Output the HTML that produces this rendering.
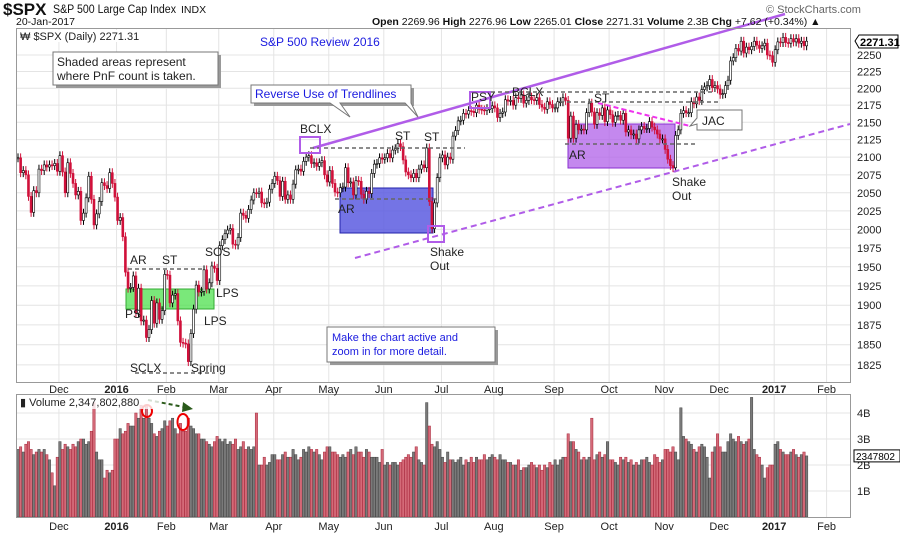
<!DOCTYPE html>
<html><head><meta charset="utf-8">
<style>
body{margin:0;background:#fff;width:900px;height:534px;overflow:hidden;font-family:"Liberation Sans",sans-serif}
svg{display:block}
text{font-family:"Liberation Sans",sans-serif}
</style></head>
<body>
<svg id="chart" width="900" height="534" viewBox="0 0 900 534">
<g id="grid"></g>
<g id="overlayBack">
  <rect x="126" y="289" width="88" height="20" fill="#4ee04e" fill-opacity="0.75" stroke="#3a3"/>
  <rect x="340" y="188" width="93" height="45" fill="#5c5ce0" fill-opacity="0.85" stroke="#2222aa"/>
  <rect x="568" y="124" width="107" height="44" fill="#b060e8" fill-opacity="0.75" stroke="#8a2fd0"/>
</g>
<g id="candles"></g>
<g id="vol"></g>
<g id="annot">
  <line x1="313" y1="148" x2="785" y2="14" stroke="#b05ce8" stroke-width="2.5"/>
  <line x1="355" y1="258" x2="850" y2="124" stroke="#b05ce8" stroke-width="2" stroke-dasharray="6,4"/>
  <line x1="598" y1="103" x2="690" y2="126" stroke="#ee33ee" stroke-width="2" stroke-dasharray="5,3"/>
  <g stroke="#666" stroke-width="1.5" stroke-dasharray="4,3">
    <line x1="128" y1="269" x2="205" y2="269"/>
    <line x1="135" y1="373" x2="215" y2="373"/>
    <line x1="310" y1="148" x2="465" y2="148"/>
    <line x1="335" y1="199" x2="440" y2="199"/>
    <line x1="470" y1="92" x2="715" y2="92"/>
    <line x1="560" y1="102" x2="720" y2="102"/>
    <line x1="565" y1="144" x2="697" y2="144"/>
  </g>
  <rect x="300" y="137" width="20" height="16" fill="none" stroke="#b05ce8" stroke-width="2"/>
  <rect x="470" y="92" width="20" height="16" fill="none" stroke="#b05ce8" stroke-width="2"/>
  <rect x="428" y="226" width="16" height="16" fill="none" stroke="#b05ce8" stroke-width="2"/>
  <g font-size="12" fill="#222">
    <text x="130" y="264">AR</text><text x="162" y="264">ST</text><text x="205" y="256">SOS</text>
    <text x="125" y="318">PS</text><text x="216" y="297">LPS</text><text x="204" y="325">LPS</text>
    <text x="130" y="372">SCLX</text><text x="191" y="372">Spring</text>
    <text x="300" y="133">BCLX</text><text x="395" y="140">ST</text><text x="424" y="141">ST</text>
    <text x="338" y="213">AR</text><text x="430" y="256">Shake</text><text x="430" y="270">Out</text>
    <text x="471" y="101">PSY</text><text x="512" y="96">BCLX</text><text x="594" y="102">ST</text>
    <text x="569" y="159">AR</text><text x="672" y="186">Shake</text><text x="672" y="200">Out</text>
  </g>
  <g>
    <polygon points="697,110 742,110 742,130 697,130 697,124 690,126 697,118" fill="#fff" stroke="#777"/>
    <text x="702" y="125" font-size="12" fill="#222">JAC</text>
  </g>
  <g>
    <rect x="56" y="55" width="165" height="33" fill="#999"/>
    <rect x="53" y="52" width="165" height="33" fill="#fff" stroke="#777"/>
    <text x="57" y="66" font-size="12" fill="#222">Shaded areas represent</text>
    <text x="57" y="80" font-size="12" fill="#222">where PnF count is taken.</text>
  </g>
  <g>
    <rect x="254" y="88" width="160" height="18" fill="#999"/>
    <polygon points="251,85 411,85 411,103 418,117 405,103 340,103 350,117 330,103 251,103" fill="#fff" stroke="#777"/>
    <text x="255" y="98" font-size="12" fill="#1a1adf">Reverse Use of Trendlines</text>
  </g>
  <g>
    <rect x="330" y="330" width="168" height="35" fill="#999"/>
    <rect x="327" y="327" width="168" height="35" fill="#fff" stroke="#777"/>
    <text x="332" y="341" font-size="11" fill="#1a1adf">Make the chart active and</text>
    <text x="332" y="355" font-size="11" fill="#1a1adf">zoom in for more detail.</text>
  </g>
  <text x="260" y="46" font-size="12" fill="#1a1adf">S&amp;P 500 Review 2016</text>
  <ellipse cx="147" cy="411" rx="5" ry="6" fill="none" stroke="#e00" stroke-width="2"/>
  <ellipse cx="183" cy="422" rx="5.5" ry="8" fill="none" stroke="#e00" stroke-width="2"/>
  <line x1="148" y1="400" x2="184" y2="407" stroke="#2a5a1a" stroke-width="2" stroke-dasharray="4,3"/>
  <polygon points="183,402 193,409 182,412" fill="#2a5a1a"/>
</g>
<g id="frame">
  <rect x="16.5" y="28.5" width="834" height="354" fill="none" stroke="#999"/>
  <rect x="16.5" y="394.5" width="834" height="123" fill="none" stroke="#999"/>
  <rect x="19" y="30" width="130" height="12" fill="#fff"/>
  <text x="20" y="40" font-size="11" fill="#222">₩ $SPX (Daily) 2271.31</text>
  <rect x="19" y="397" width="140" height="12" fill="#fff" fill-opacity="0.8"/>
  <text x="20" y="406" font-size="11" fill="#222">▮ Volume 2,347,802,880</text>
</g>
<g>
  <text x="3" y="15" font-size="17" font-weight="bold" fill="#111">$SPX</text>
  <text x="53" y="13" font-size="11.5" fill="#111" textLength="123" lengthAdjust="spacingAndGlyphs">S&amp;P 500 Large Cap Index</text>
  <text x="181" y="13" font-size="10.5" fill="#111">INDX</text>
  <text x="16" y="25" font-size="10.5" fill="#111">20-Jan-2017</text>
  <text x="372" y="25" font-size="10.5" fill="#111"><tspan font-weight="bold">Open</tspan> 2269.96  <tspan font-weight="bold">High</tspan> 2276.96  <tspan font-weight="bold">Low</tspan> 2265.01  <tspan font-weight="bold">Close</tspan> 2271.31  <tspan font-weight="bold">Volume</tspan> 2.3B  <tspan font-weight="bold">Chg</tspan> +7.62 (+0.34%) ▲</text>
  <text x="766" y="13" font-size="11" fill="#666">© StockCharts.com</text>
</g>
<g id="axes"></g>
<g>
  <polygon points="855,41 859,35 898,35 898,48 859,48" fill="#fff" stroke="#000"/>
  <text x="860" y="46" font-size="11" font-weight="bold" fill="#000">2271.31</text>
</g>
</svg>
<script>
const closes=[
2099,2078,2081,2075,2045,2023,2053,2050,2083,2081,2089,2086,2089,2088,2091,2080,
2102,2079,2050,2092,2077,2063,2047,2052,2012,2022,2043,2073,2041,2006,2021,2038,2064,2060,2056,2078,2063,2044,
2012,2016,1990,1943,1922,1923,1938,1890,1922,1880,1881,1859,1869,1906,1877,1903,1882,1893,1940,
1939,1903,1913,1915,1880,1853,1852,1851,1829,1864,1895,1926,1917,1918,1946,1921,1929,1951,1948,1932,
1978,1986,1994,1999,2001,1980,1979,1989,2022,2019,2015,2027,2040,2050,2049,2051,2036,2035,2037,2055,2063,
2073,2067,2045,2066,2041,2047,2041,2062,2082,2083,2080,2094,2100,2102,2091,2092,2087,2092,2095,2075,2065,
2081,2063,2051,2050,2057,2058,2085,2064,2065,2047,2067,2066,2048,2041,2052,2049,2077,2090,2091,2099,2097,
2099,2105,2099,2110,2112,2119,2115,2096,2079,2075,2071,2077,2071,2083,2089,2085,2113,2038,2001,2036,2071,2099,
2103,2089,2100,2097,2130,2138,2152,2153,2163,2162,2167,2166,2164,2175,2169,2168,2167,2170,2170,2174,
2171,2157,2163,2165,2183,2181,2182,2175,2186,2185,2190,2178,2182,2187,2183,2182,2186,2176,2172,2169,2180,2176,2171,
2171,2180,2180,2186,2182,2127,2159,2127,2147,2139,2140,2139,2164,2178,2165,2147,2164,2160,2171,2151,2168,
2161,2150,2159,2160,2153,2163,2136,2139,2132,2133,2126,2139,2144,2141,2141,2151,2143,2139,2133,2126,2126,
2111,2097,2088,2085,2131,2139,2163,2167,2164,2164,2180,2177,2187,2182,2198,2202,2204,2213,2201,2204,2199,
2191,2192,2204,2212,2241,2246,2260,2256,2271,2253,2262,2258,2263,2271,2265,2260,2264,2268,2250,2249,2239,
2258,2270,2269,2277,2269,2268,2275,2270,2275,2268,2271,2264,2271];
const volumes=[
2.6,2.7,2.5,2.8,2.9,2.6,2.4,2.5,2.6,2.5,2.6,2.4,2.2,1.7,1.2,2.3,
2.9,2.6,2.8,2.7,2.6,2.8,2.7,2.9,3.0,3.0,2.8,2.9,3.3,4.4,2.5,2.2,2.2,1.5,1.8,1.7,1.8,3.0,
3.0,3.4,3.2,3.3,3.6,3.5,3.5,4.0,3.8,4.3,3.8,4.3,3.8,3.6,3.2,3.1,3.3,3.4,3.7,
3.5,3.7,3.8,3.4,3.2,3.6,3.3,3.3,3.8,3.5,3.4,3.2,3.2,3.0,3.0,2.9,2.8,2.7,2.9,3.1,
3.0,2.9,3.0,2.8,2.9,2.8,3.0,2.6,2.7,2.9,2.6,2.7,2.6,2.7,4.0,2.0,2.0,2.3,2.0,2.1,2.4,
2.4,2.2,2.2,2.4,2.5,2.3,2.3,2.6,2.4,2.2,2.3,2.6,2.5,2.7,2.6,2.5,2.6,2.4,2.2,2.5,2.7,
2.7,2.5,2.5,2.4,2.3,2.4,2.3,2.5,2.6,2.4,2.7,2.5,2.5,2.3,2.6,2.5,2.3,2.3,2.3,2.1,2.6,
2.0,2.1,2.0,2.1,2.1,2.0,2.1,2.2,2.3,2.4,2.3,2.5,2.7,2.2,2.1,2.0,4.4,3.5,2.8,2.7,2.9,2.6,
2.3,2.1,2.5,2.2,2.2,2.1,2.2,2.3,2.0,2.2,2.1,2.3,2.1,2.3,2.2,2.2,2.4,2.2,2.3,2.4,
2.3,2.2,2.4,2.2,2.2,2.1,2.1,2.0,2.0,2.2,1.8,1.9,1.9,2.0,2.1,2.0,1.9,2.0,1.8,2.0,1.9,2.1,2.0,
2.2,2.0,2.2,2.3,2.3,3.2,2.9,2.9,2.6,2.5,2.2,2.3,2.2,2.3,3.8,2.2,2.4,2.5,2.3,2.4,2.9,
2.2,2.2,2.1,2.0,2.3,2.2,2.3,2.1,2.2,2.0,2.1,2.0,2.2,2.2,2.3,2.1,2.0,2.4,2.3,2.1,2.2,
2.6,2.6,2.5,2.7,2.5,2.2,4.2,3.1,3.0,2.9,2.8,2.6,2.5,2.7,2.8,2.7,2.3,1.5,2.5,2.7,3.2,
2.7,2.5,2.5,2.9,3.2,3.0,2.9,3.1,2.9,2.8,2.9,3.0,4.6,2.6,2.4,2.3,2.0,1.5,1.9,2.0,2.0,
2.8,2.9,2.6,2.5,2.4,2.4,2.5,2.6,2.4,2.3,2.4,2.5,2.35];
const monthLabels=["Dec","2016","Feb","Mar","Apr","May","Jun","Jul","Aug","Sep","Oct","Nov","Dec","2017","Feb"];
const monthStart=[16,38,57,77,98,119,140,162,182,205,226,247,268,289,309];
const priceTicks=[1825,1850,1875,1900,1925,1950,1975,2000,2025,2050,2075,2100,2125,2150,2175,2200,2225,2250];
const volTicks=[1,2,3,4];
const volTickLabels=["1B","2B","3B","4B"];

const NS="http://www.w3.org/2000/svg";
function xS(i){return 18+i*2.62;}
function yP(p){return 55+1480*Math.log(2250/p);}
function yV(v){return 517-v*26;}
function mk(tag,attrs,parent){const e=document.createElementNS(NS,tag);for(const k in attrs)e.setAttribute(k,attrs[k]);parent.appendChild(e);return e;}

const grid=document.getElementById('grid'),axes=document.getElementById('axes');
priceTicks.forEach(p=>{
  const l=mk('line',{x1:17,x2:850,y1:yP(p),y2:yP(p),stroke:'#e4e4e4'},grid);
  
  
  const t=mk('text',{x:857,y:yP(p)+4,'font-size':11,fill:'#222'},axes);
  
  
  t.textContent=p;
});
volTicks.forEach((v,k)=>{
  const l=mk('line',{x1:17,x2:850,y1:yV(v),y2:yV(v),stroke:'#e4e4e4'},grid);
  
  
  const t=mk('text',{x:857,y:yV(v)+4,'font-size':11,fill:'#222'},axes);
  
  
  t.textContent=volTickLabels[k];
});
monthStart.forEach((m,k)=>{
  const x=xS(m)-1;
  [[29,382],[395,517]].forEach(r=>{
    const l=mk('line',{x1:x,x2:x,y1:r[0],y2:r[1],stroke:'#e4e4e4'},grid);
    
    
  });
  const bold=/^\d/.test(monthLabels[k]);
  [393,530].forEach(y=>{
    const t=mk('text',{x:x,y:y,'font-size':11,fill:'#222','text-anchor':'middle','font-weight':bold?'bold':'normal'},axes);
    
    
    t.textContent=monthLabels[k];
  });
});
const vt=mk('rect',{x:854,y:yV(2.35)-6,width:46,height:12,fill:'#fff',stroke:'#000'},axes);


const vtt=mk('text',{x:856,y:yV(2.35)+4,'font-size':10,fill:'#000'},axes);


vtt.textContent='2347802';

const cg=document.getElementById('candles'),vg=document.getElementById('vol');
closes.forEach((c,i)=>{
  const o=i?closes[i-1]:c;
  const down=c<o;
  const col=down?'#d0103a':'#000';
  const hi=Math.max(o,c)*1.003,lo=Math.min(o,c)*0.997;
  const x=xS(i);
  const w=mk('line',{x1:x,x2:x,y1:yP(hi),y2:yP(lo),stroke:col,'stroke-width':1},cg);
  
  
  const top=yP(Math.max(o,c)),bot=yP(Math.min(o,c));
  const b=mk('rect',{x:x-1,y:top,width:2,height:Math.max(1,bot-top),fill:down?col:'#fff',stroke:col,'stroke-width':0.6},cg);
  
  
  const v=volumes[i];
  const vb=mk('rect',{x:x-1.2,y:yV(v),width:2.4,height:517-yV(v),fill:down?'#d46a78':'#7a7a7a',stroke:down?'#a8283c':'#444','stroke-width':0.5},vg);
  
  
});
</script>
</body></html>
